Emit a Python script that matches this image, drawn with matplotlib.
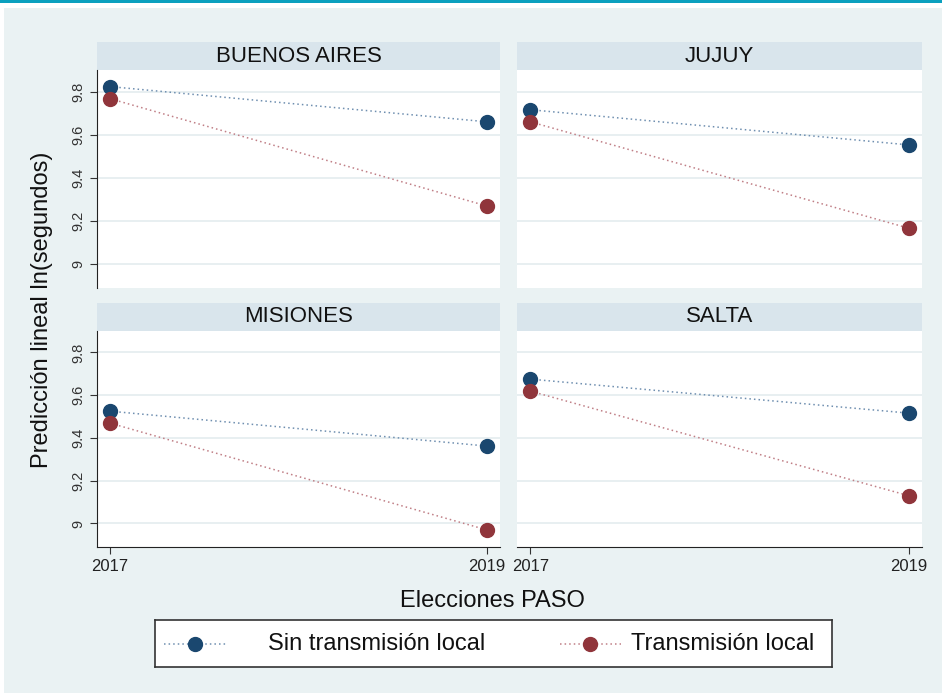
import matplotlib.pyplot as plt
import numpy as np

plt.rcParams['font.family'] = ['Liberation Sans', 'DejaVu Sans']

years = [2017, 2019]
provinces = ["BUENOS AIRES", "JUJUY", "MISIONES", "SALTA"]
series_names = ["Sin transmisión local", "Transmisión local"]

# predicted ln(seconds), per province: [2017, 2019]
sin_trans = [[9.823, 9.660], [9.716, 9.553], [9.525, 9.362], [9.675, 9.516]]
con_trans = [[9.767, 9.270], [9.660, 9.167], [9.469, 8.970], [9.619, 9.130]]
# half-width of confidence intervals
sin_ci = [[0.008, 0.008], [0.016, 0.022], [0.008, 0.008], [0.012, 0.016]]
con_ci = [[0.008, 0.010], [0.020, 0.028], [0.008, 0.010], [0.016, 0.024]]

y_ticks = [9, 9.2, 9.4, 9.6, 9.8]
y_tick_labels = ["9", "9.2", "9.4", "9.6", "9.8"]

navy = "#1a476f"
maroon = "#90353b"
bg = "#eaf2f3"
strip = "#d9e5ec"
grid_c = "#e6eef0"

W, H = 942, 693
fig = plt.figure(figsize=(W / 100, H / 100), dpi=100)
fig.patch.set_facecolor("white")

# background panel and teal line on top
fig.add_artist(plt.Rectangle((4 / W, 0), 1 - 4 / W, 1 - 8 / H, transform=fig.transFigure,
                             facecolor=bg, edgecolor="none", zorder=0))
fig.add_artist(plt.Rectangle((0, 1 - 3 / H), 1, 3 / H, transform=fig.transFigure,
                             facecolor="#0aa0be", edgecolor="none", zorder=0))


def px_axes(x0, y0, x1, y1):
    return fig.add_axes([x0 / W, 1 - y1 / H, (x1 - x0) / W, (y1 - y0) / H])


boxes = [(97, 42, 500, 288), (517, 42, 922, 288),
         (97, 303, 500, 547), (517, 303, 922, 547)]

for i, name in enumerate(provinces):
    x0, ys, x1, y1 = boxes[i]
    y0 = ys + 28
    # title strip
    st = px_axes(x0, ys, x1, y0)
    st.set_facecolor(strip)
    st.set_xticks([])
    st.set_yticks([])
    for s in st.spines.values():
        s.set_visible(False)
    st.text(0.5, 0.5, name, ha="center", va="center", fontsize=16, color="#111111")

    ax = px_axes(x0, y0, x1, y1)
    ax.set_facecolor("white")
    ax.set_xlim(2017 - 0.07, 2019 + 0.07)
    ax.set_ylim(8.89, 9.90)
    ax.set_yticks(y_ticks)
    for yt in y_ticks:
        ax.axhline(yt, color=grid_c, lw=1.3, zorder=1)
    for s in ax.spines.values():
        s.set_visible(False)
    left = i % 2 == 0
    bottom = i >= 2
    if left:
        ax.spines["left"].set_visible(True)
        ax.spines["left"].set_color("#222222")
        ax.set_yticklabels(y_tick_labels, rotation=90, va="center", fontsize=10.5, color="#333333")
        ax.tick_params(axis="y", length=5, color="#333333")
    else:
        ax.tick_params(axis="y", left=False, labelleft=False)
    if bottom:
        ax.spines["bottom"].set_visible(True)
        ax.spines["bottom"].set_color("#222222")
        ax.set_xticks(years)
        ax.set_xticklabels([str(y) for y in years], fontsize=12, color="#222222")
        ax.tick_params(axis="x", length=5, color="#333333")
    else:
        ax.tick_params(axis="x", bottom=False, labelbottom=False)

    ax.plot(years, sin_trans[i], ls=(0, (1, 2)), color="#6f8fb0", lw=1.1, zorder=2)
    ax.plot(years, con_trans[i], ls=(0, (1, 2)), color="#c07f86", lw=1.1, zorder=2)
    ax.errorbar(years, sin_trans[i], yerr=sin_ci[i], fmt="o", color=navy, ms=10,
                ecolor="#9ab0c6", elinewidth=1, capsize=3, zorder=3)
    ax.errorbar(years, con_trans[i], yerr=con_ci[i], fmt="o", color=maroon, ms=10,
                ecolor="#c89a9e", elinewidth=1, capsize=3, zorder=3)

fig.text(42 / W, 1 - 310 / H, "Predicción lineal ln(segundos)", rotation=90,
         ha="center", va="center", fontsize=17, color="#111111")
fig.text(492 / W, 1 - 601 / H, "Elecciones PASO", ha="center", va="center",
         fontsize=17, color="#111111")

# legend
lg = px_axes(155, 620, 832, 667)
lg.set_xlim(155, 832)
lg.set_ylim(0, 1)
lg.set_xticks([])
lg.set_yticks([])
for s in lg.spines.values():
    s.set_color("#333333")
    s.set_linewidth(1.2)
lg.plot([164, 226], [0.5, 0.5], ls=(0, (1, 2)), color="#6f8fb0", lw=1.1)
lg.plot([195], [0.5], "o", color=navy, ms=10)
lg.text(268, 0.5, series_names[0], va="center", fontsize=17, color="#111111")
lg.plot([560, 621], [0.5, 0.5], ls=(0, (1, 2)), color="#c07f86", lw=1.1)
lg.plot([590], [0.5], "o", color=maroon, ms=10)
lg.text(631, 0.5, series_names[1], va="center", fontsize=17, color="#111111")

fig.savefig("out.png", dpi=100)
